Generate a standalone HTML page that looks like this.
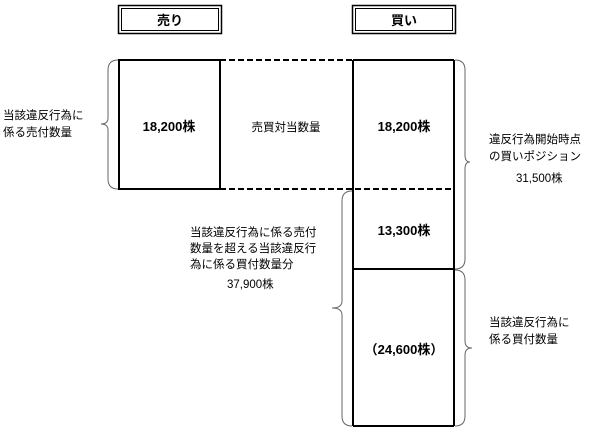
<!DOCTYPE html>
<html><head><meta charset="utf-8"><style>
body{margin:0;background:#fff;width:600px;height:433px;overflow:hidden}
svg text{font-family:"Liberation Sans","Noto Sans CJK JP",sans-serif;fill:#000}
</style></head><body>
<svg width="600" height="433" viewBox="0 0 600 433">
<g fill="none" stroke="#000">
<rect x="118.5" y="5.5" width="103" height="28" stroke-width="1.5"/>
<rect x="121.5" y="8.5" width="97" height="22" stroke-width="1"/>
<rect x="352.5" y="5.5" width="103" height="28" stroke-width="1.5"/>
<rect x="355.5" y="8.5" width="97" height="22" stroke-width="1"/>
<g stroke-width="2">
<rect x="119" y="60" width="101" height="129"/>
<line x1="353" y1="60" x2="353" y2="426"/>
<line x1="454" y1="60" x2="454" y2="426"/>
<line x1="353" y1="60" x2="454" y2="60"/>
<line x1="353" y1="269" x2="454" y2="269"/>
<line x1="353" y1="426" x2="454" y2="426"/>
<line x1="220" y1="60" x2="353" y2="60" stroke-dasharray="6,3"/>
<line x1="220" y1="189" x2="454" y2="189" stroke-dasharray="6,3"/>
</g>
<g stroke="#666" stroke-width="1">
<path d="M118,60 Q108,60 108,70 L108,118 Q108,124 101,124 Q108,124 108,130 L108,179 Q108,189 118,189"/>
<path d="M455,60 Q465,60 465,70 L465,155 Q465,162 470,162 Q465,162 465,169 L465,259 Q465,269 455,269"/>
<path d="M352,191 Q342,191 342,201 L342,301 Q342,308 332,308 Q342,308 342,315 L342,416 Q342,426 352,426"/>
<path d="M455,270 Q465,270 465,280 L465,341 Q465,348 472,348 Q465,348 465,355 L465,416 Q465,426 455,426"/>
</g>
</g>
<g font-weight="bold" font-size="13" text-anchor="middle">
<text x="170" y="25">売り</text>
<text x="404" y="25">買い</text>
<text x="169" y="131">18,200株</text>
<text x="404" y="131">18,200株</text>
<text x="404" y="235">13,300株</text>
<text x="404" y="354">（24,600株）</text>
</g>
<g font-size="11.5">
<text x="286" y="131" text-anchor="middle">売買対当数量</text>
<text x="3" y="119">当該違反行為に</text>
<text x="3" y="136">係る売付数量</text>
<text x="489" y="143">違反行為開始時点</text>
<text x="489" y="160">の買いポジション</text>
<text x="516" y="182">31,500株</text>
<text x="190" y="236">当該違反行為に係る売付</text>
<text x="190" y="252">数量を超える当該違反行</text>
<text x="190" y="268">為に係る買付数量分</text>
<text x="227" y="288">37,900株</text>
<text x="489" y="326">当該違反行為に</text>
<text x="489" y="343">係る買付数量</text>
</g>
</svg>
</body></html>
